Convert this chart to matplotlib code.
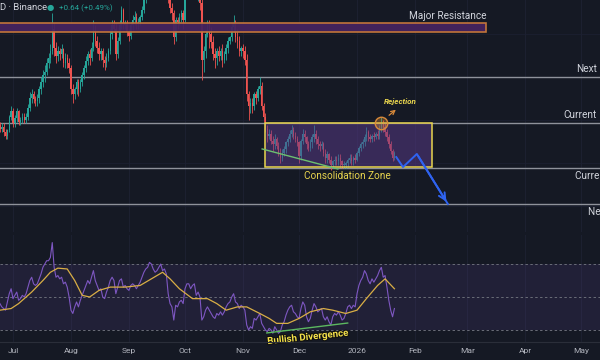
import matplotlib
matplotlib.use('Agg')
import matplotlib.pyplot as plt
import matplotlib.dates as mdates
import matplotlib.patheffects as pe
from matplotlib.patches import Rectangle
import numpy as np
import pandas as pd

plt.rcParams['font.family'] = ['Roboto', 'DejaVu Sans']

# ---------------- data ----------------
start_date = '2025-06-24'
first_open = 147
closes = [145, 146, 143, 141, 144, 152, 155,
          148, 151, 155, 149, 150, 152, 150,
          152, 157, 163, 165, 162, 161, 163,
          168, 172, 176, 178, 183, 186, 190,
          203, 192, 187, 190, 188, 191, 183,
          186, 183, 180, 168, 165, 168, 172,
          168, 172, 176, 180, 184, 188, 186,
          192, 202, 196, 192, 188, 190, 185,
          183, 186, 190, 200, 205, 203, 188,
          196, 205, 214, 205, 206, 201, 199,
          205, 208, 210, 205, 207, 210, 214,
          220, 225, 230, 240, 242, 238, 235,
          235, 240, 245, 238, 240, 236, 222,
          215, 212, 198, 208, 207, 210, 212,
          208, 222, 230, 232, 228, 232, 235,
          222, 225, 218, 185, 190, 200, 205,
          200, 195, 188, 186, 190, 187, 190,
          185, 188, 192, 196, 198, 204, 206,
          198, 196, 190, 192, 190, 185, 165,
          158, 160, 158, 165, 163, 168, 170,
          158, 152, 145, 141, 142, 138, 136,
          139, 135, 131, 128, 131, 133, 137,
          139, 142, 144, 141, 139, 137, 129,
          138, 142, 140, 136, 134, 137, 140,
          142, 139, 136, 135, 136, 131, 128,
          130, 127, 124, 126, 127, 126, 128,
          126, 124, 124, 125, 127, 128, 126,
          128, 127, 131, 134, 136, 137, 140,
          143, 140, 139, 141, 140, 142, 141,
          145, 148, 146, 143, 140, 136, 132,
          128, 131]
highs = [149, 148, 148, 145, 145, 153, 158,
         157, 153, 157, 156, 152, 154, 154,
         154, 159, 166, 168, 167, 164, 165,
         170, 175, 179, 182, 186, 189, 194,
         212, 206, 195, 193, 192, 194, 192,
         189, 188, 186, 182, 171, 169, 174,
         174, 174, 178, 182, 187, 190, 191,
         195, 208, 205, 199, 195, 192, 192,
         187, 189, 192, 203, 208, 208, 206,
         198, 208, 216, 215, 208, 208, 203,
         207, 211, 213, 212, 209, 211, 216,
         222, 228, 232, 242, 247, 246, 240,
         238, 243, 250, 247, 242, 242, 238,
         225, 218, 214, 210, 210, 212, 214,
         214, 224, 234, 236, 234, 234, 238,
         237, 228, 228, 220, 193, 202, 208,
         208, 204, 199, 192, 192, 193, 192,
         194, 190, 194, 198, 199, 206, 211,
         208, 203, 199, 193, 194, 193, 188,
         167, 163, 163, 166, 167, 170, 175,
         172, 160, 154, 147, 145, 144, 141,
         142, 140, 137, 134, 133, 135, 138,
         141, 144, 147, 146, 143, 141, 138,
         139, 145, 144, 141, 138, 139, 142,
         147, 144, 141, 138, 138, 137, 133,
         132, 131, 129, 127, 129, 129, 130,
         130, 127, 126, 126, 128, 130, 130,
         129, 130, 132, 135, 137, 139, 142,
         146, 144, 142, 142, 143, 143, 144,
         147, 152, 150, 148, 145, 142, 138,
         133, 132]
lows = [143, 143, 141, 139, 139, 143, 150,
        146, 146, 149, 147, 147, 148, 148,
        148, 150, 155, 160, 160, 158, 158,
        160, 165, 169, 172, 176, 180, 183,
        188, 187, 183, 184, 185, 186, 181,
        180, 180, 177, 165, 160, 162, 165,
        164, 166, 170, 174, 178, 182, 182,
        184, 190, 193, 189, 185, 185, 181,
        179, 181, 184, 188, 197, 201, 185,
        186, 194, 203, 203, 203, 199, 196,
        197, 202, 205, 203, 203, 205, 208,
        212, 218, 222, 228, 236, 234, 232,
        231, 233, 237, 235, 235, 233, 218,
        212, 208, 194, 196, 203, 205, 207,
        203, 207, 220, 227, 226, 226, 230,
        220, 219, 214, 173, 178, 186, 198,
        192, 192, 185, 180, 182, 184, 185,
        181, 183, 185, 189, 194, 196, 201,
        195, 192, 187, 187, 186, 182, 161,
        150, 154, 154, 156, 159, 161, 165,
        156, 149, 143, 137, 139, 136, 132,
        133, 133, 129, 125, 126, 129, 131,
        135, 137, 140, 139, 137, 135, 125,
        127, 136, 137, 133, 132, 132, 134,
        137, 136, 133, 132, 133, 129, 125,
        125, 125, 121, 122, 124, 124, 124,
        123, 122, 122, 122, 123, 125, 124,
        124, 125, 126, 129, 132, 134, 135,
        138, 138, 137, 137, 138, 139, 139,
        139, 143, 143, 141, 138, 134, 130,
        126, 127]
rsi = [46, 44, 43, 42, 47, 52, 55,
       49, 51, 53, 48, 49, 51, 50,
       52, 56, 60, 62, 58, 57, 58,
       61, 64, 68, 70, 72, 72, 74,
       83, 68, 62, 63, 61, 62, 58,
       59, 56, 50, 42, 40, 44, 47,
       44, 48, 51, 54, 57, 60, 58,
       62, 66, 60, 57, 54, 55, 50,
       49, 53, 56, 60, 62, 60, 52,
       56, 60, 61, 56, 57, 55, 54,
       57, 58, 57, 55, 57, 59, 62,
       65, 67, 68, 71, 70, 67, 65,
       66, 68, 70, 66, 67, 64, 52,
       46, 44, 36, 45, 44, 47, 48,
       46, 55, 58, 58, 55, 57, 58,
       51, 53, 50, 36, 38, 42, 44,
       42, 40, 38, 37, 40, 39, 41,
       39, 41, 44, 46, 47, 50, 52,
       47, 46, 43, 45, 44, 42, 33,
       30, 32, 31, 37, 36, 38, 40,
       34, 32, 30, 29, 31, 30, 28,
       32, 30, 28, 29, 33, 35, 39,
       42, 44, 45, 41, 40, 38, 37,
       43, 47, 45, 38, 35, 37, 42,
       46, 44, 41, 42, 43, 38, 36,
       38, 35, 33, 38, 40, 39, 41,
       39, 36, 37, 40, 44, 45, 43,
       45, 44, 52, 57, 60, 62, 66,
       64, 60, 58, 61, 59, 61, 63,
       66, 68, 62, 63, 56, 48, 42,
       38, 43]
rsi_ma_dates = ['2025-06-24', '2025-06-30', '2025-07-04', '2025-07-11', '2025-07-17',
                '2025-07-21', '2025-07-25', '2025-07-30', '2025-08-03', '2025-08-07',
                '2025-08-11', '2025-08-16', '2025-08-22', '2025-08-30', '2025-09-07',
                '2025-09-13', '2025-09-19', '2025-09-23', '2025-09-28', '2025-10-05',
                '2025-10-13', '2025-10-18', '2025-10-23', '2025-10-29', '2025-11-03',
                '2025-11-10', '2025-11-15', '2025-11-19', '2025-11-25', '2025-12-01',
                '2025-12-07', '2025-12-14', '2025-12-19', '2025-12-26', '2026-01-01',
                '2026-01-06', '2026-01-12', '2026-01-16', '2026-01-21']
rsi_ma = [42, 43, 46, 53, 60,
          65, 67.5, 67, 60, 51,
          50, 54, 56, 56, 57,
          61, 65, 61, 55, 49,
          49, 46, 42, 44, 44,
          40, 37, 34, 34, 37,
          41, 43, 42, 40, 42,
          49, 57, 61, 55]

major_res = (201.0, 206.3)
major_res_end = '2026-03-11'
next_res = 175.0
current_res = 148.3
current_sup = 122.2
next_sup = 101.3
zone_dates = ('2025-11-13', '2026-02-10')
zone_prices = (122.7, 148.3)
trend_dates = ['2025-11-11 06:00', '2025-12-21 18:00']
trend_prices = [133.2, 121.6]
proj_dates = ['2026-01-22', '2026-01-25 14:00', '2026-02-02', '2026-02-18 14:00']
proj_prices = [128.5, 122.7, 130.3, 101.3]
reject_date, reject_price = '2026-01-13 18:00', 148.3
div_dates = ['2025-11-13 18:00', '2025-12-27']
div_values = [28.2, 34.2]
month_ticks = ['2025-07-01', '2025-08-01', '2025-09-01', '2025-10-01', '2025-11-01',
               '2025-12-01', '2026-01-01', '2026-02-01', '2026-03-01', '2026-04-01',
               '2026-05-01']
month_labels = ['Jul', 'Aug', 'Sep', 'Oct', 'Nov', 'Dec', '2026', 'Feb', 'Mar', 'Apr', 'May']

# ---------------- style ----------------
BG = '#151924'
GRID = '#1c2030'
UP = '#26a69a'
DN = '#ef5350'
LINE = '#8f929b'
YEL = '#e9d54e'

def dn(s):
    return mdates.date2num(pd.Timestamp(s))

fig = plt.figure(figsize=(6, 3.6), dpi=100, facecolor=BG)
ax = fig.add_axes([0, 128 / 360, 1, 232 / 360], facecolor=BG)
axr = fig.add_axes([0, 18 / 360, 1, 107 / 360], facecolor=BG)

x0 = dn('2025-07-01') - 6.95
x1 = x0 + 320.9
for a in (ax, axr):
    a.set_xlim(x0, x1)
    for s in a.spines.values():
        s.set_visible(False)
    a.set_yticks([])
    for t in month_ticks:
        a.axvline(dn(t), color=GRID, lw=0.8, zorder=0)
ax.set_xticks([])
ax.set_ylim(85.04, 219.6)
axr.set_ylim(22.7, 87.6)

for p in (100, 125, 150, 175, 200):
    ax.axhline(p, color=GRID, lw=0.6, zorder=0)

# candles
dates = pd.date_range(start_date, periods=len(closes))
xs = mdates.date2num(dates)
c = np.array(closes, float)
o = np.array([first_open] + closes[:-1], float)
h = np.array(highs, float)
l = np.array(lows, float)
cols = np.where(c >= o, UP, DN)
ax.vlines(xs, l, h, colors=cols, lw=0.6, zorder=3)
body = np.where(np.abs(c - o) < 0.4, 0.4, c - o)
ax.bar(xs, body, bottom=o, width=0.74, color=cols, zorder=4, linewidth=0)

# levels
ax.add_patch(Rectangle((x0 - 5, major_res[0]), dn(major_res_end) - x0 + 5,
                       major_res[1] - major_res[0], facecolor='#45235f',
                       edgecolor='#c9793a', lw=1.2, zorder=5, alpha=0.95))
for lv in (next_res, current_res, current_sup, next_sup):
    ax.axhline(lv, color=LINE, lw=1.0, zorder=2)

zx0, zx1 = dn(zone_dates[0]), dn(zone_dates[1])
ax.add_patch(Rectangle((zx0, zone_prices[0]), zx1 - zx0, zone_prices[1] - zone_prices[0],
                       facecolor='#5b3b8c', alpha=0.5, edgecolor='none', zorder=5))
ax.add_patch(Rectangle((zx0, zone_prices[0]), zx1 - zx0, zone_prices[1] - zone_prices[0],
                       facecolor='none', edgecolor=YEL, lw=1.1, zorder=6))

ax.plot([dn(d) for d in trend_dates], trend_prices, color='#6cc070', lw=1.0, zorder=6)

px = [dn(d) for d in proj_dates]
ax.plot(px, proj_prices, color='#2f63f0', lw=1.4, zorder=7)
ax.annotate('', xy=(px[-1], proj_prices[-1]), xytext=(px[-2], proj_prices[-2]),
            arrowprops=dict(arrowstyle='->', color='#2f63f0', lw=1.4,
                            mutation_scale=12), zorder=7)

ax.plot(dn(reject_date), reject_price, 'o', ms=9, mfc=(0.85, 0.55, 0.2, 0.35),
        mec='#d98a3a', mew=1.0, zorder=8)
ax.annotate('', xy=(dn('2026-01-22 22:00'), 157.0), xytext=(dn('2026-01-17'), 151.7),
            arrowprops=dict(arrowstyle='->', color='#d98a3a', lw=0.9, mutation_scale=7),
            zorder=8)

# labels
tk = dict(color='#d1d4dc', fontsize=7.2, zorder=9)
ax.text(dn(major_res_end), 210.3, 'Major Resistance', ha='right', va='center', **tk)
ax.text(dn('2026-05-09 08:00'), 179.6, 'Next', ha='right', va='center', **tk)
ax.text(dn('2026-05-09 08:00'), 152.9, 'Current', ha='right', va='center', **tk)
ax.text(dn('2026-04-27 12:00'), 117.5, 'Current Support', ha='left', va='center',
        clip_on=True, **tk)
ax.text(dn('2026-05-04 12:00'), 96.6, 'Next Support', ha='left', va='center',
        clip_on=True, **tk)
ax.text(dn('2025-12-27'), 117.3, 'Consolidation Zone', ha='center', va='center',
        color=YEL, fontsize=7.2, zorder=9)
ax.text(dn('2026-01-24'), 161.0, 'Rejection', ha='center', va='center', color=YEL,
        fontsize=5.8, fontweight='bold', style='italic', zorder=9)

fig.text(0.0, 1 - 8 / 360, 'D · Binance', color='#d1d4dc', fontsize=6.8,
         ha='left', va='center')
fig.text(47 / 600, 1 - 7.5 / 360, '●', color='#26a69a', fontsize=6, ha='left', va='center',
         family=['DejaVu Sans'])
fig.text(59 / 600, 1 - 8 / 360, '+0.64 (+0.49%)', color='#26a69a', fontsize=5.8,
         ha='left', va='center')

# RSI pane
axr.axhspan(30, 70, color='#7e57c2', alpha=0.12, lw=0, zorder=1)
for lv in (70, 50, 30):
    axr.axhline(lv, color='#6a6d78', lw=0.7, ls=(0, (2.5, 2.5)), zorder=2)
axr.plot(xs, rsi, color='#7e57c2', lw=0.8, zorder=4)
axr.plot([dn(d) for d in rsi_ma_dates], rsi_ma, color='#d9ae45', lw=0.9, zorder=5)
axr.plot([dn(d) for d in div_dates], div_values, color='#5cb860', lw=1.0, zorder=6)
axr.text(dn('2025-12-05 18:00'), 25.8, 'Bullish Divergence', ha='center', va='center',
         rotation=6, color='#f3e04a', fontsize=7, fontweight='bold', zorder=9, clip_on=False,
         path_effects=[pe.withStroke(linewidth=1.5, foreground='#101010')])

axr.set_xticks([dn(t) for t in month_ticks])
axr.set_xticklabels(month_labels)
axr.tick_params(axis='x', length=0, pad=4.5, labelsize=6, labelcolor='#b2b5be')

fig.add_artist(plt.Line2D([0, 1], [18 / 360, 18 / 360], color='#2a2e39', lw=0.8))

fig.savefig('out.png', dpi=100, facecolor=BG)
